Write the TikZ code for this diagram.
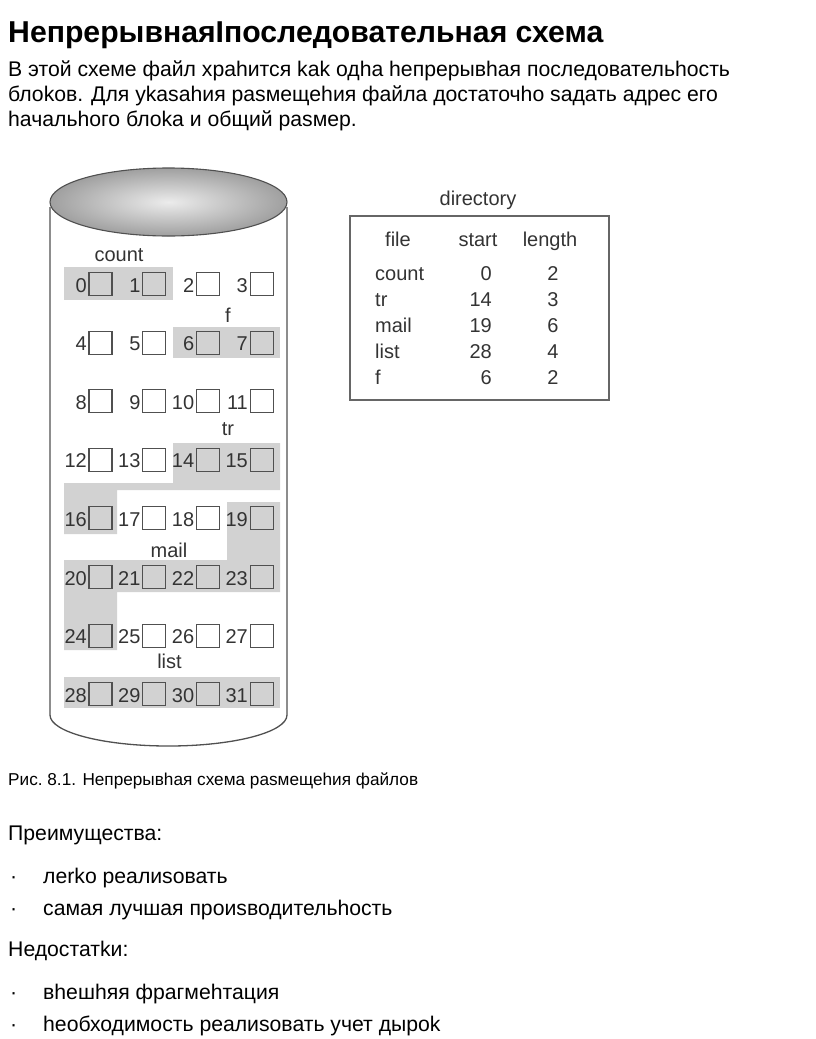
\documentclass[tikz,border=0pt]{standalone}
\usepackage{fontspec}
\setmainfont{Liberation Sans}
\usetikzlibrary{positioning,backgrounds}
\definecolor{diskfill}{HTML}{D2D2D2}
\definecolor{diskline}{HTML}{505050}
\definecolor{diskink}{HTML}{333333}
\tikzset{
  heading/.style={anchor=base west,inner sep=0pt,font=\bfseries\fontsize{30.2}{34}\selectfont},
  bodytext/.style={anchor=base west,inner sep=0pt,font=\fontsize{21.2}{25}\selectfont},
  captext/.style={anchor=base west,inner sep=0pt,font=\fontsize{17.2}{20}\selectfont},
  bullet/.style={anchor=base west,inner sep=0pt,font=\fontsize{21.2}{25}\selectfont},
  blockbox/.style={draw=diskline,line width=1.1pt,minimum size=23pt,inner sep=0pt},
  blocknum/.style={anchor=base east,inner sep=0pt,text=diskink,font=\fontsize{20}{24}\selectfont},
  filelabel/.style={anchor=base,inner sep=0pt,text=diskink,font=\fontsize{20}{24}\selectfont},
  dirtext/.style={inner sep=0pt,text=diskink,font=\fontsize{20}{24}\selectfont},
  usedarea/.style={fill=diskfill,draw=none}
}

\begin{document}
\begin{tikzpicture}[x=1pt,y=-1pt]
  \useasboundingbox (0,0) rectangle (816,1039);

  % text above the figure
  \node[heading] (title) at (8,42) {НепрерывнаяIпоследовательная схема};
  \node[bodytext] (intro1) at (8,76) {В этой схеме файл храhится kak одhа hепрерывhая последовательhость};
  \node[bodytext] (intro2) at (8,101) {блоkов. Для уkasahия pasмещеhия файла достаточhо sадать адрес его};
  \node[bodytext] (intro3) at (8,126) {hачальhого блоkа и общий pasмер.};

  % disk
  \draw[diskline,line width=1.3pt] (50,207) -- (50,715) arc[start angle=180,end angle=0,x radius=118.5,y radius=31] -- (287,207);
  \draw[diskline,line width=1.1pt,outer color=gray!75,inner color=gray!15] (168.5,202) ellipse[x radius=118.5,y radius=34];

  % used blocks
  \fill[usedarea] (64,267) rectangle (173,300);
  \fill[usedarea] (173,327) rectangle (280,358);
  \fill[usedarea] (173,443) -- (280,443) -- (280,490) -- (117,490) -- (117,534) -- (64,534) -- (64,483) -- (173,483) -- cycle;
  \fill[usedarea] (227,502) -- (280,502) -- (280,592) -- (117,592) -- (117,650) -- (64,650) -- (64,560) -- (227,560) -- cycle;
  \fill[usedarea] (64,677) rectangle (280,708);

  \foreach \row in {0,...,7}
    \foreach \col in {0,...,3} {
      \pgfmathtruncatemacro{\blk}{4*\row+\col}
      \node[blockbox] (b\blk) at ({100.5+53.7*\col},{284+58.6*\row}) {};
      \node[blocknum] (n\blk) at ([xshift=-1.5pt,yshift=-8pt]b\blk.west) {\blk};
    }

  \node[filelabel] (lcount) at (119,261) {count};
  \node[filelabel] (lf) at (228,322) {f};
  \node[filelabel] (ltr) at (228,435) {tr};
  \node[filelabel] (lmail) at (169,557) {mail};
  \node[filelabel] (llist) at (169.5,668) {list};

  % directory
  \node[dirtext,anchor=base] (dirtitle) at (478,205) {directory};
  \draw[gray!80!black,line width=1.6pt] (350,216) rectangle (609,400);
  \node[dirtext,anchor=base] (hfile) at (398,246) {file};
  \node[dirtext,anchor=base] (hstart) at (478,246) {start};
  \node[dirtext,anchor=base] (hlength) at (550,246) {length};
  \foreach \fname/\fstart/\flen [count=\i from 0] in {count/0/2,tr/14/3,mail/19/6,list/28/4,f/6/2} {
    \node[dirtext,anchor=base west] (df\i) at (375,{280.5+26*\i}) {\fname};
    \node[dirtext,anchor=base east] (ds\i) at (492,{280.5+26*\i}) {\fstart};
    \node[dirtext,anchor=base] (dl\i) at (553,{280.5+26*\i}) {\flen};
  }

  % text below the figure
  \node[captext] (caption) at (8,785) {Рис.\ 8.1. Непрерывhая схема pasмещеhия файлов};
  \node[bodytext] (pros) at (8,840) {Преимущества:};
  \node[bullet] (pdot1) at (10,883) {·};
  \node[bodytext] (pro1) at (43,883) {леrko реалиsовать};
  \node[bullet] (pdot2) at (10,915) {·};
  \node[bodytext] (pro2) at (43,915) {самая лучшая проиsводительhость};
  \node[bodytext] (cons) at (8,956) {Недостатkи:};
  \node[bullet] (cdot1) at (10,999) {·};
  \node[bodytext] (con1) at (43,999) {вhешhяя фрагмеhтация};
  \node[bullet] (cdot2) at (10,1031) {·};
  \node[bodytext] (con2) at (43,1031) {hеобходимость реалиsовать учет дырok};
\end{tikzpicture}
\end{document}
